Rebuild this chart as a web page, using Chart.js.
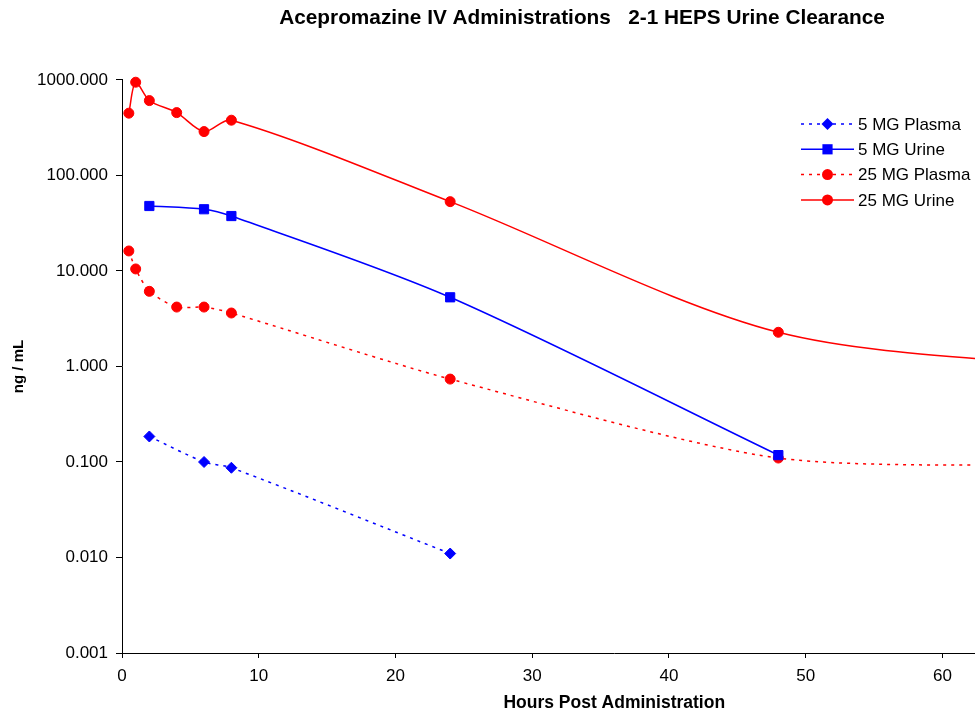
<!DOCTYPE html>
<html><head><meta charset="utf-8">
<script src="https://cdn.jsdelivr.net/npm/chart.js@4.4.0/dist/chart.umd.min.js"></script>
<style>
html,body{margin:0;padding:0;overflow:hidden;background:#fff;width:975px;height:713px}
#wrap{position:absolute;left:0;top:0;width:1164px;height:713px}
</style>
</head><body><div id="wrap"><canvas id="c" width="1164" height="713"></canvas></div>
<script>
const chartTitle = 'Acepromazine IV Administrations   2-1 HEPS Urine Clearance';
const xTitle = 'Hours Post Administration';
const yTitle = 'ng / mL';
const seriesNames = ['5 MG Plasma', '5 MG Urine', '25 MG Plasma', '25 MG Urine'];

const plasma5Hours = [2, 6, 8, 24];
const plasma5 = [0.185, 0.100, 0.087, 0.011];
const urine5Hours = [2, 6, 8, 24, 48];
const urine5 = [47.9, 44.3, 37.6, 5.30, 0.118];
const plasma25Hours = [0.5, 1, 2, 4, 6, 8, 24, 48, 72];
const plasma25 = [16.2, 10.5, 6.12, 4.19, 4.19, 3.63, 0.738, 0.110, 0.092];
const urine25Hours = [0.5, 1, 2, 4, 6, 8, 24, 48, 72];
const urine25 = [449, 947, 608, 455, 288, 379, 53.2, 2.28, 0.93];
const yTickValues = [0.001, 0.01, 0.1, 1, 10, 100, 1000];
const xTickValues = [0, 10, 20, 30, 40, 50, 60, 70];

const FONT = '"Liberation Sans", Arial, Helvetica, sans-serif';
const BLUE = '#0000FF', RED = '#FF0000';

function pts(xs, ys) { return xs.map((x, i) => ({ x: x, y: ys[i] })); }

const styles = [
  { color: BLUE, dash: [3, 5], point: 'rectRot', r: 5.5, t: 0.3 },
  { color: BLUE, dash: [], point: 'rect', r: 6.5, t: 0.3 },
  { color: RED, dash: [3, 5], point: 'circle', r: 5, t: 0.25 },
  { color: RED, dash: [], point: 'circle', r: 5, t: 0.3 }
];
const seriesData = [pts(plasma5Hours, plasma5), pts(urine5Hours, urine5), pts(plasma25Hours, plasma25), pts(urine25Hours, urine25)];

const datasets = seriesNames.map((n, i) => ({
  label: n,
  data: seriesData[i],
  borderColor: styles[i].color,
  backgroundColor: styles[i].color,
  borderWidth: 1.5,
  borderDash: styles[i].dash,
  pointStyle: styles[i].point,
  pointRadius: styles[i].r,
  pointBorderWidth: 1,
  pointBackgroundColor: styles[i].color,
  pointBorderColor: styles[i].color,
  tension: styles[i].t,
  clip: 10,
  fill: false
}));

const titleShift = {
  id: 'titleShift',
  afterLayout(chart) {
    const t = chart.titleBlock;
    if (!t) return;
    const w = t.right - t.left;
    t.left = 582 - w / 2;
    t.right = 582 + w / 2;
  }
};

const legendPlugin = {
  id: 'customLegend',
  afterDraw(chart) {
    const ctx = chart.ctx;
    ctx.save();
    chart.data.datasets.forEach((ds, i) => {
      const y = 124 + i * 25.3;
      ctx.strokeStyle = ds.borderColor;
      ctx.lineWidth = 1.5;
      ctx.setLineDash(ds.borderDash);
      ctx.beginPath(); ctx.moveTo(801, y); ctx.lineTo(854, y); ctx.stroke();
      ctx.setLineDash([]);
      ctx.fillStyle = ds.borderColor;
      const cx = 827.5, r = ds.pointRadius;
      ctx.beginPath();
      if (ds.pointStyle === 'circle') ctx.arc(cx, y, r + 0.5, 0, Math.PI * 2);
      else if (ds.pointStyle === 'rect') { const s = r * Math.SQRT1_2 + 0.5; ctx.rect(cx - s, y - s, 2 * s, 2 * s); }
      else { const s = r + 0.5; ctx.moveTo(cx, y - s); ctx.lineTo(cx + s, y); ctx.lineTo(cx, y + s); ctx.lineTo(cx - s, y); ctx.closePath(); }
      ctx.fill();
      ctx.fillStyle = '#000';
      ctx.font = '17px ' + FONT;
      ctx.textBaseline = 'middle';
      ctx.textAlign = 'left';
      ctx.fillText(ds.label, 858, y + 1);
    });
    ctx.restore();
  }
};

new Chart(document.getElementById('c'), {
  type: 'line',
  data: { datasets: datasets },
  plugins: [titleShift, legendPlugin],
  options: {
    responsive: false,
    animation: false,
    devicePixelRatio: 1,
    layout: { padding: { left: 0, top: 0, bottom: 0, right: 57.5 } },
    plugins: {
      legend: { display: false },
      tooltip: { enabled: false },
      title: {
        display: true, text: chartTitle, color: '#000',
        font: { family: FONT, size: 20.8, weight: 'bold', lineHeight: 1.2 },
        padding: { top: 6, bottom: 49 }
      }
    },
    scales: {
      x: {
        type: 'linear', min: 0, max: 72,
        afterBuildTicks(s) { s.ticks = xTickValues.map(v => ({ value: v })); },
        afterFit(s) { s.height = 60; },
        ticks: { color: '#000', font: { family: FONT, size: 17 }, padding: 8, maxRotation: 0, callback: v => String(v) },
        grid: { display: true, drawOnChartArea: false, drawTicks: true, tickLength: 5, color: '#000', lineWidth: 1 },
        border: { display: true, color: '#000', width: 1 },
        title: { display: true, text: xTitle, color: '#000', font: { family: FONT, size: 17.5, weight: 'bold', lineHeight: 1.2 }, padding: { top: 0, bottom: -1 } }
      },
      y: {
        type: 'logarithmic', min: 0.001, max: 1000,
        afterBuildTicks(s) { s.ticks = yTickValues.map(v => ({ value: v })); },
        afterFit(s) { s.width = 122; },
        ticks: { color: '#000', font: { family: FONT, size: 17 }, padding: 8, callback: v => Number(v).toFixed(3) },
        grid: { display: true, drawOnChartArea: false, drawTicks: true, tickLength: 6, color: '#000', lineWidth: 1 },
        border: { display: true, color: '#000', width: 1 },
        title: { display: true, text: yTitle, color: '#000', font: { family: FONT, size: 15, weight: 'bold', lineHeight: 1.2 }, padding: { top: 10, bottom: 0 } }
      }
    }
  }
});
</script>
</body></html>
